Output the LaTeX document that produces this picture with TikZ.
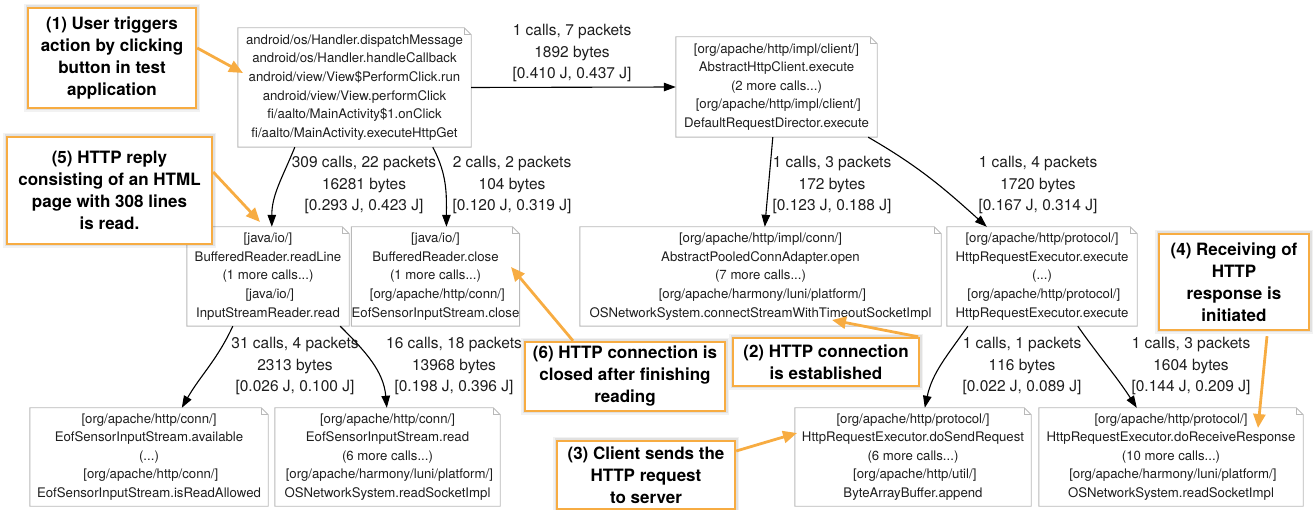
\documentclass[tikz,border=0pt]{standalone}
\usepackage{fontspec}
\setmainfont{TeX Gyre Heros}
\usetikzlibrary{arrows.meta}

\definecolor{notegray}{RGB}{185,185,185}
\definecolor{callorange}{RGB}{247,172,66}
\definecolor{inkc}{RGB}{30,30,30}

\begin{document}
\begin{tikzpicture}[x=1pt,y=-1pt,
  call/.style={align=center, inner sep=0pt, text=inkc,
    font=\fontsize{13.2}{18.6}\selectfont},
  edgelbl/.style={align=center, inner sep=0pt, text=inkc,
    font=\fontsize{15.5}{21.5}\selectfont},
  flow/.style={draw=black, line width=1.1pt,
    -{Triangle[length=12pt,width=8.5pt]}},
  callout/.style={draw=callorange, line width=2.4pt, fill=white,
    align=center, inner sep=0pt, text=black,
    font=\fontsize{17}{22}\selectfont\bfseries,
    preaction={draw=black, draw opacity=0.05, line width=8pt},
    preaction={draw=black, draw opacity=0.07, line width=5pt}},
  pointer/.style={draw=callorange, line width=2.8pt,
    -{Triangle[length=14pt,width=12pt]}},
]
\useasboundingbox (0,0) rectangle (1315,510);

% ---- call-stack boxes ----
\node[call, minimum width=233pt, minimum height=119pt] (A) at (354.5,87.5)
  {android/os/Handler.dispatchMessage\\android/os/Handler.handleCallback\\
   android/view/View\$PerformClick.run\\android/view/View.performClick\\
   fi/aalto/MainActivity\$1.onClick\\fi/aalto/MainActivity.executeHttpGet};
\node[call, minimum width=201pt, minimum height=100pt] (B) at (776.5,87)
  {[org/apache/http/impl/client/]\\AbstractHttpClient.execute\\(2 more calls...)\\{}
   [org/apache/http/impl/client/]\\DefaultRequestDirector.execute};
\node[call, minimum width=162pt, minimum height=99pt] (C) at (268,276.5)
  {[java/io/]\\BufferedReader.readLine\\(1 more calls...)\\{}
   [java/io/]\\InputStreamReader.read};
\node[call, minimum width=157pt, minimum height=99pt] (D) at (435.5,276.5)
  {[java/io/]\\BufferedReader.close\\(1 more calls...)\\{}
   [org/apache/http/conn/]\\EofSensorInputStream.close};
\node[call, minimum width=361pt, minimum height=99pt] (E) at (760.5,276.5)
  {[org/apache/http/impl/conn/]\\AbstractPooledConnAdapter.open\\(7 more calls...)\\{}
   [org/apache/harmony/luni/platform/]\\OSNetworkSystem.connectStreamWithTimeoutSocketImpl};
\node[call, minimum width=190pt, minimum height=99pt] (F) at (1042,276.5)
  {[org/apache/http/protocol/]\\HttpRequestExecutor.execute\\(...)\\{}
   [org/apache/http/protocol/]\\HttpRequestExecutor.execute};
\node[call, minimum width=238pt, minimum height=98pt] (G) at (149,457)
  {[org/apache/http/conn/]\\EofSensorInputStream.available\\(...)\\{}
   [org/apache/http/conn/]\\EofSensorInputStream.isReadAllowed};
\node[call, minimum width=225pt, minimum height=98pt] (H) at (387.5,457)
  {[org/apache/http/conn/]\\EofSensorInputStream.read\\(6 more calls...)\\{}
   [org/apache/harmony/luni/platform/]\\OSNetworkSystem.readSocketImpl};
\node[call, minimum width=236pt, minimum height=98pt] (I) at (913,457)
  {[org/apache/http/protocol/]\\HttpRequestExecutor.doSendRequest\\(6 more calls...)\\{}
   [org/apache/http/util/]\\ByteArrayBuffer.append};
\node[call, minimum width=264pt, minimum height=98pt] (J) at (1171,457)
  {[org/apache/http/protocol/]\\HttpRequestExecutor.doReceiveResponse\\(10 more calls...)\\{}
   [org/apache/harmony/luni/platform/]\\OSNetworkSystem.readSocketImpl};

% note outlines with a folded corner
\foreach \n in {A,B,C,D,E,F,G,H,I,J}{
  \draw[notegray, line width=0.9pt]
    (\n.north west) -- ([xshift=-7pt]\n.north east) -- ([yshift=-7pt]\n.north east)
    -- (\n.south east) -- (\n.south west) -- cycle;
  \draw[notegray, line width=0.6pt]
    ([xshift=-7pt]\n.north east) -- ([xshift=-7pt,yshift=-7pt]\n.north east)
    -- ([yshift=-7pt]\n.north east);
}

% ---- call edges ----
\draw[flow] (A.east) -- (B.west);
\draw[flow] ([xshift=57pt]A.south west) to[out=-112,in=90] ([xshift=85pt]C.north west);
\draw[flow] ([xshift=195pt]A.south west) to[out=-62,in=90] ([xshift=95pt]D.north west);
\draw[flow] ([xshift=97pt]B.south west) to[out=-95,in=85] ([xshift=185pt]E.north west);
\draw[flow] ([xshift=-9pt]B.south east) to[out=-30,in=138] ([xshift=40pt]F.north west);
\draw[flow] ([xshift=46pt]C.south west) to[out=-115,in=60] ([xshift=152pt]G.north west);
\draw[flow] ([xshift=-9pt]C.south east) to[out=-45,in=95] ([xshift=112pt]H.north west);
\draw[flow] ([xshift=21pt]F.south west) to[out=-125,in=78] ([xshift=130pt]I.north west);
\draw[flow] ([xshift=131pt]F.south west) to[out=-55,in=123] ([xshift=98pt]J.north west);

% ---- edge labels ----
\node[edgelbl] (lab) at (572,53)   {1 calls, 7 packets\\1892 bytes\\{}[0.410 J, 0.437 J]};
\node[edgelbl] (lac) at (364,185)  {309 calls, 22 packets\\16281 bytes\\{}[0.293 J, 0.423 J]};
\node[edgelbl] (lad) at (512,185)  {2 calls, 2 packets\\104 bytes\\{}[0.120 J, 0.319 J]};
\node[edgelbl] (lbe) at (832,185)  {1 calls, 3 packets\\172 bytes\\{}[0.123 J, 0.188 J]};
\node[edgelbl] (lbf) at (1038,185) {1 calls, 4 packets\\1720 bytes\\{}[0.167 J, 0.314 J]};
\node[edgelbl] (lcg) at (295,366)  {31 calls, 4 packets\\2313 bytes\\{}[0.026 J, 0.100 J]};
\node[edgelbl] (lch) at (454,366)  {16 calls, 18 packets\\13968 bytes\\{}[0.198 J, 0.396 J]};
\node[edgelbl] (lfi) at (1022,366) {1 calls, 1 packets\\116 bytes\\{}[0.022 J, 0.089 J]};
\node[edgelbl] (lfj) at (1191,366) {1 calls, 3 packets\\1604 bytes\\{}[0.144 J, 0.209 J]};

% ---- annotations ----
\node[callout, minimum width=168pt, minimum height=100pt] (c1) at (112,58)
  {(1) User triggers\\action by clicking\\button in test\\application};
\node[callout, minimum width=205pt, minimum height=107pt] (c5) at (109.5,190.5)
  {(5) HTTP reply\\consisting of an HTML\\page with 308 lines\\is read.};
\node[callout, minimum width=200pt, minimum height=69pt] (c6) at (625,376.5)
  {(6) HTTP connection is\\closed after finishing\\reading};
\node[callout, minimum width=186pt, minimum height=48pt] (c2) at (826,362)
  {(2) HTTP connection\\is established};
\node[callout, minimum width=178pt, minimum height=68pt] (c3) at (646,475)
  {(3) Client sends the\\HTTP request\\to server};
\node[callout, minimum width=150pt, minimum height=96pt] (c4) at (1234,282)
  {(4) Receiving of\\HTTP\\response is\\initiated};

\coordinate (t1) at (243,73);
\coordinate (t5) at (260,222);
\coordinate (t6) at (511,267);
\coordinate (t2) at (832,320);
\coordinate (t3) at (797,433);
\coordinate (t4) at (1258,428);

\draw[pointer] ([yshift=10pt]c1.east) -- (t1);
\draw[pointer] ([yshift=18.5pt]c5.east) -- (t5);
\draw[pointer] ([xshift=-52pt]c6.north) -- (t6);
\draw[pointer] ([xshift=-2pt]c2.north east) -- (t2);
\draw[pointer] ([yshift=24pt]c3.east) -- (t3);
\draw[pointer] ([xshift=33pt,yshift=-5pt]c4.south) -- (t4);
\end{tikzpicture}
\end{document}
